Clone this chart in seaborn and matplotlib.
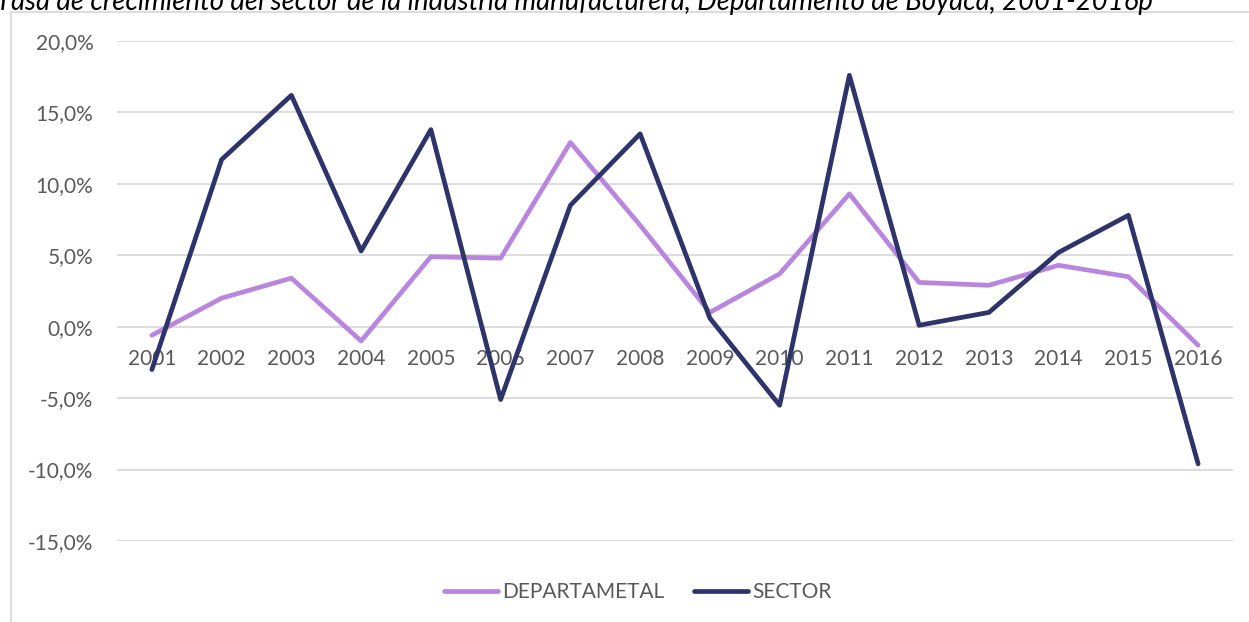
import matplotlib
matplotlib.use("Agg")
import matplotlib.pyplot as plt
import seaborn as sns
import pandas as pd
from matplotlib.lines import Line2D

years = [str(y) for y in range(2001, 2017)]
departamental = [-0.6, 2.0, 3.4, -1.0, 4.9, 4.8, 12.9, 7.1, 1.0, 3.7, 9.3, 3.1, 2.9, 4.3, 3.5, -1.3]
sector = [-3.0, 11.7, 16.2, 5.3, 13.8, -5.1, 8.5, 13.5, 0.6, -5.5, 17.6, 0.1, 1.0, 5.2, 7.8, -9.6]
series_names = ["DEPARTAMETAL", "SECTOR"]
colors = ["#B886DC", "#2E3469"]
title = "Tasa de crecimiento del sector de la industria manufacturera, Departamento de Boyacá, 2001-2016p"
yticks = [-15, -10, -5, 0, 5, 10, 15, 20]

sns.set_theme(style="white")
plt.rcParams['font.family'] = ['Lato', 'DejaVu Sans']

df = pd.DataFrame({
    "year": years * 2,
    "x": list(range(len(years))) * 2,
    "value": departamental + sector,
    "serie": [series_names[0]] * len(years) + [series_names[1]] * len(years),
})

fig = plt.figure(figsize=(12.49, 6.22), dpi=100)
ax = fig.add_axes([117 / 1249, 1 - 541 / 622, (1233 - 117) / 1249, (541 - 41) / 622])

sns.lineplot(data=df, x="x", y="value", hue="serie", palette=colors, linewidth=3.4,
             ax=ax, legend=False, solid_capstyle="round", sort=False)
for ln in ax.get_lines():
    ln.set_solid_joinstyle("round")

ax.spines["bottom"].set_position(("data", 0))
for s in ax.spines.values():
    s.set_visible(False)

ax.set_xlim(-0.5, len(years) - 0.5)
ax.set_ylim(-15, 20)
ax.set_yticks(yticks)
ax.set_yticklabels([f"{v:.1f}%".replace(".", ",") for v in yticks])
ax.set_xticks(range(len(years)))
ax.set_xticklabels(years)
ax.tick_params(axis="x", length=0, pad=16, labelsize=15, labelcolor="#595959")
ax.tick_params(axis="y", length=0, pad=17, labelsize=15, labelcolor="#595959")
ax.grid(axis="y", color="#D9D9D9", linewidth=1.3)
ax.set_axisbelow(True)
ax.set_xlabel("")
ax.set_ylabel("")

handles = [Line2D([0], [0], color=c, lw=3.4, solid_capstyle="round") for c in colors]
fig.legend(handles, series_names, loc="center", bbox_to_anchor=(638 / 1249, 1 - 592 / 622),
           ncol=2, frameon=False, fontsize=15, labelcolor="#595959",
           handlelength=2.6, handletextpad=0.2, columnspacing=1.4)

# chart border (left and top edges)
fig.add_artist(Line2D([11 / 1249, 11 / 1249], [0, 1 - 12 / 622], transform=fig.transFigure,
                      color="#D9D9D9", lw=1.3))
fig.add_artist(Line2D([11 / 1249, 1], [1 - 12 / 622, 1 - 12 / 622], transform=fig.transFigure,
                      color="#D9D9D9", lw=1.3))

fig.text(-4 / 1249, 1 - 10 / 622, title, fontsize=19.8, style="italic", color="#000000",
         ha="left", va="baseline")

fig.savefig("out.png", dpi=100)
